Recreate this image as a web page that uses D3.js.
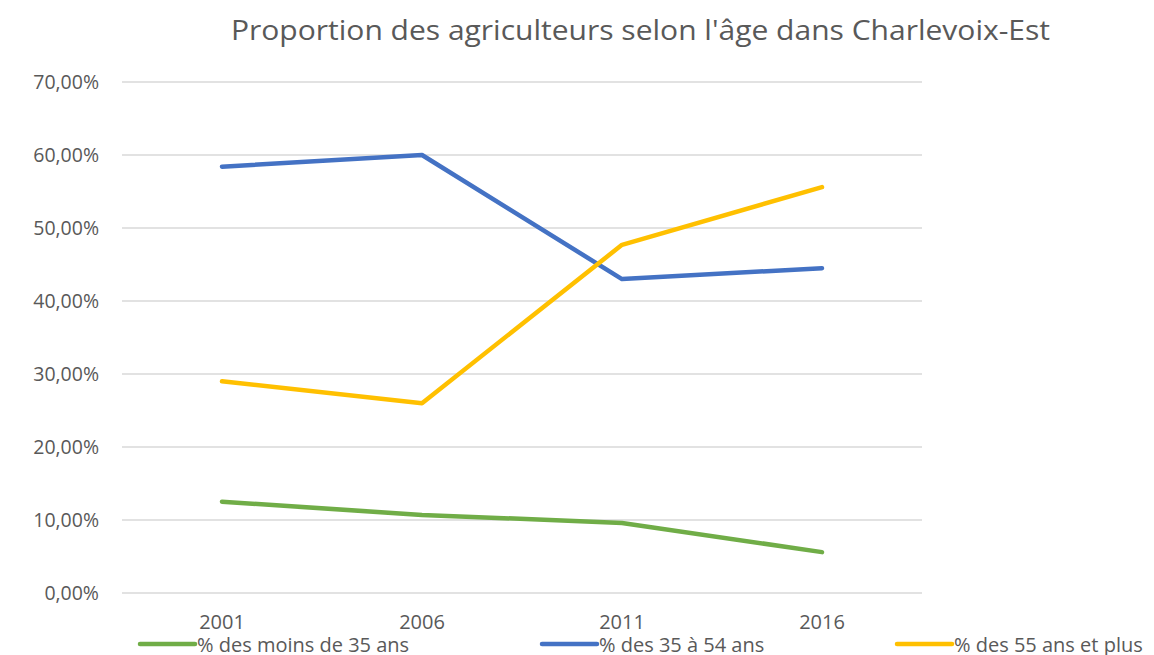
<!DOCTYPE html>
<html>
<head>
<meta charset="utf-8">
<script src="https://cdn.jsdelivr.net/npm/d3@7"></script>
<style>
  body { margin: 0; background: #fff; }
  svg { display: block; font-family: "Open Sans", "Noto Sans", sans-serif; }
</style>
</head>
<body>
<div id="chart"></div>
<script>
// Data
const years = ["2001", "2006", "2011", "2016"];
const seriesNames = ["% des moins de 35 ans", "% des 35 à 54 ans", "% des 55 ans et plus"];
const moins35 = [0.125, 0.107, 0.096, 0.056];
const de35a54 = [0.584, 0.600, 0.430, 0.445];
const plus55 = [0.290, 0.260, 0.477, 0.556];
const yTicks = [0, 0.1, 0.2, 0.3, 0.4, 0.5, 0.6, 0.7];
const seriesColors = ["#70AD47", "#4472C4", "#FFC000"];

const width = 1154, height = 655;
const plot = { left: 122, right: 922, top: 82, bottom: 593 };
const textColor = "#595959";

const svg = d3.select("#chart").append("svg")
    .attr("width", width)
    .attr("height", height);

const x = d3.scaleBand().domain(years).range([plot.left, plot.right]);
const y = d3.scaleLinear().domain([0, 0.7]).range([plot.bottom, plot.top]);

// Title
svg.append("text")
    .attr("x", 231)
    .attr("y", 40)
    .attr("font-size", "28px")
    .attr("fill", textColor)
    .attr("textLength", 819)
    .attr("lengthAdjust", "spacingAndGlyphs")
    .text("Proportion des agriculteurs selon l'âge dans Charlevoix-Est");

// Gridlines
svg.append("g")
    .selectAll("line")
    .data(yTicks)
    .join("line")
    .attr("x1", plot.left)
    .attr("x2", plot.right)
    .attr("y1", d => y(d))
    .attr("y2", d => y(d))
    .attr("stroke", "#d9d9d9")
    .attr("stroke-width", 1.3);

// Y axis labels
const yAxis = svg.append("g")
    .attr("transform", `translate(${plot.left - 23},0)`)
    .call(d3.axisLeft(y).tickValues(yTicks).tickSize(0).tickPadding(0)
        .tickFormat(d => d3.format(".2f")(d * 100).replace(".", ",") + "%"));
yAxis.select(".domain").remove();
yAxis.selectAll("text")
    .attr("font-size", "19.5px")
    .attr("fill", textColor)
    .attr("font-family", "'Open Sans', 'Noto Sans', sans-serif");

// X axis labels
const xAxis = svg.append("g")
    .attr("transform", `translate(0,${plot.bottom + 22})`)
    .call(d3.axisBottom(x).tickSize(0).tickPadding(0));
xAxis.select(".domain").remove();
xAxis.selectAll("text")
    .attr("font-size", "20px")
    .attr("fill", textColor)
    .attr("font-family", "'Open Sans', 'Noto Sans', sans-serif");

// Lines
const allSeries = [moins35, de35a54, plus55];
const line = d3.line()
    .x((d, i) => x(years[i]) + x.bandwidth() / 2)
    .y(d => y(d));

svg.append("g")
    .selectAll("path")
    .data(allSeries)
    .join("path")
    .attr("d", line)
    .attr("fill", "none")
    .attr("stroke", (d, i) => seriesColors[i])
    .attr("stroke-width", 4.5)
    .attr("stroke-linecap", "round")
    .attr("stroke-linejoin", "round");

// Legend
const legendX = [140, 542, 897];
const legend = svg.append("g")
    .selectAll("g")
    .data(seriesNames)
    .join("g")
    .attr("transform", (d, i) => `translate(${legendX[i]},644)`);

legend.append("line")
    .attr("x1", 0)
    .attr("x2", 55)
    .attr("stroke", (d, i) => seriesColors[i])
    .attr("stroke-width", 4.5)
    .attr("stroke-linecap", "round");

legend.append("text")
    .attr("x", 57)
    .attr("y", 8)
    .attr("font-size", "20px")
    .attr("fill", textColor)
    .text(d => d);
</script>
</body>
</html>
